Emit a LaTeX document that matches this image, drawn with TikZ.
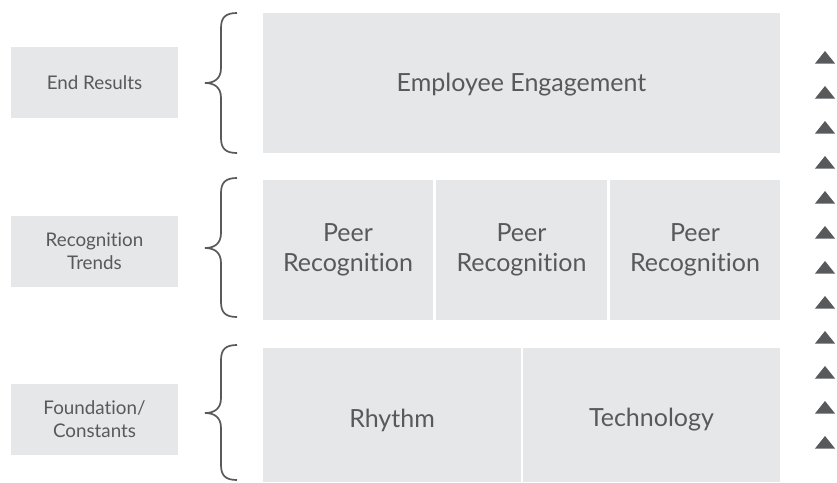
\documentclass[tikz,border=0pt]{standalone}
\usepackage{fontspec}
\setmainfont{Lato}[Ligatures=NoCommon]
\definecolor{boxgray}{HTML}{E6E7E8}
\definecolor{txtgray}{HTML}{58595B}
\begin{document}
\begin{tikzpicture}[x=1pt,y=-1pt,
  box/.style={fill=boxgray,draw=none,inner sep=0pt,outer sep=0pt,text=txtgray,align=center},
  lbl/.style={box,minimum width=167pt,minimum height=71pt,font=\fontsize{18.8}{23}\selectfont},
  main/.style={box,font=\fontsize{25}{30}\selectfont},
  mtxt/.style={inner sep=0pt,text=txtgray,align=center,font=\fontsize{25}{30}\selectfont},
  brc/.style={draw=txtgray,line width=1.7pt},
  tri/.style={fill=txtgray,draw=none}]
\useasboundingbox (0,0) rectangle (837,482);
% left labels
\node[lbl] (l1) at (94.5,82.5) {End Results};
\node[lbl] (l2) at (94.5,251) {Recognition\\Trends};
\node[lbl] (l3) at (94.5,419) {Foundation/\\Constants};
% main boxes
\node[box,minimum width=517pt,minimum height=140pt] (ee) at (521.5,83) {};
\node[mtxt] (eet) at ([yshift=-2pt]ee.center) {Employee Engagement};
\node[main,minimum width=170pt,minimum height=140pt] (p1) at (348,250) {Peer\\Recognition};
\node[main,minimum width=171pt,minimum height=140pt] (p2) at (521.5,250) {Peer\\Recognition};
\node[main,minimum width=170pt,minimum height=140pt] (p3) at (695,250) {Peer\\Recognition};
\node[box,minimum width=258pt,minimum height=134pt] (rh) at (392,415) {};
\node[box,minimum width=257pt,minimum height=134pt] (te) at (651.5,415) {};
\node[mtxt] (rht) at ([yshift=-5pt]rh.center) {Rhythm};
\node[mtxt] (tet) at ([yshift=-5pt]te.center) {Technology};
% braces
\foreach \t/\m/\b in {13/83/153, 178/248/317, 345/413/480}{
  \draw[brc] (237,\t) .. controls (226,\t) and (221,\t+4) .. (221,\t+15)
    -- (221,\m-15) .. controls (221,\m-4) and (214,\m) .. (205,\m)
    .. controls (214,\m) and (221,\m+4) .. (221,\m+15)
    -- (221,\b-15) .. controls (221,\b-4) and (226,\b) .. (237,\b);
}
% triangles
\foreach \k in {0,...,11}{
  \fill[tri] (815,63.5+35*\k) -- (825,51+35*\k) -- (835,63.5+35*\k) -- cycle;
}
\end{tikzpicture}
\end{document}
